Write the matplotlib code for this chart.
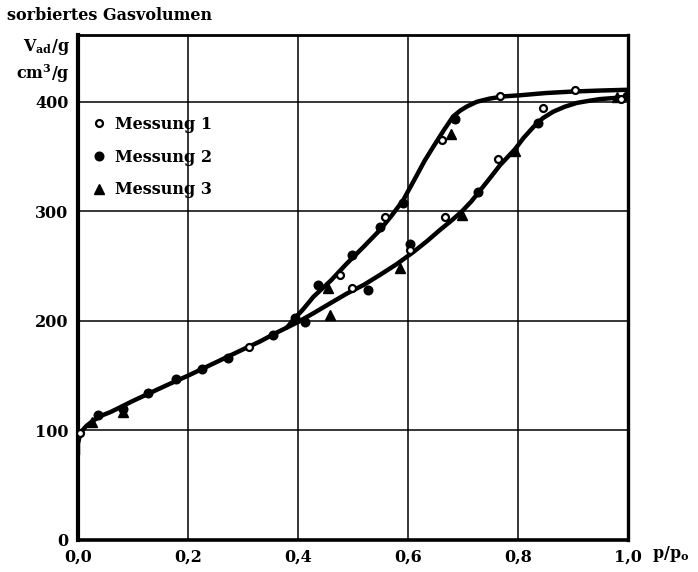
import matplotlib
matplotlib.use("Agg")
import matplotlib.pyplot as plt
from matplotlib.ticker import FixedLocator

# Sorptionsisotherme mit Hysterese

# gemeinsamer unterer Ast
common_x = [0.0, 0.0, 0.003, 0.008, 0.015, 0.025, 0.04, 0.06, 0.08, 0.1, 0.13,
            0.16, 0.2, 0.25, 0.3, 0.33, 0.36, 0.38, 0.4]
common_y = [78, 88, 95, 100, 104, 108, 113, 117, 122, 127, 134,
            141, 150, 162, 174, 181, 189, 194, 199]

# Adsorptionsast (unten)
ads_x = [0.4, 0.428, 0.46, 0.489, 0.52, 0.549, 0.58, 0.61, 0.635, 0.658, 0.68,
         0.698, 0.715, 0.731, 0.75, 0.767, 0.795, 0.81, 0.828, 0.845, 0.864,
         0.885, 0.907, 0.93, 0.949, 0.975, 1.0]
ads_y = [199, 207, 216.5, 225, 233, 242, 252, 263, 273, 283, 292,
         300, 309, 319, 331, 342, 357, 367, 377, 385, 391,
         395.5, 399, 401, 402.5, 403.5, 404]

# Desorptionsast (oben)
des_x = [0.38, 0.39, 0.41, 0.428, 0.46, 0.488, 0.52, 0.549, 0.57, 0.591, 0.615,
         0.63, 0.646, 0.665, 0.682, 0.695, 0.707, 0.725, 0.749, 0.775, 0.804,
         0.85, 0.9, 0.95, 1.0]
des_y = [194, 200, 211, 222, 237, 252, 268, 283, 296, 310, 332,
         346, 359, 374, 386.6, 392, 395.7, 400, 403, 405, 406,
         408, 409.4, 410.3, 411]

# Messpunkte
m1_x = [0.004, 0.31, 0.476, 0.498, 0.558, 0.604, 0.661, 0.667, 0.764, 0.767,
        0.846, 0.904, 0.988]
m1_y = [98, 176, 242, 230, 295, 265, 365, 295, 348, 405, 394, 411, 403]

m2_x = [0.037, 0.082, 0.128, 0.179, 0.225, 0.273, 0.355, 0.395, 0.413, 0.437,
        0.498, 0.528, 0.549, 0.59, 0.604, 0.685, 0.728, 0.837, 0.998]
m2_y = [114, 120, 134, 147, 156, 166, 187, 203, 199, 233,
        260, 228, 286, 308, 270, 384, 318, 381, 405]

m3_x = [0.025, 0.082, 0.455, 0.458, 0.585, 0.679, 0.698, 0.795, 0.98]
m3_y = [108, 117, 230, 205, 248, 371, 297, 355, 404]

x_ticks = [0.0, 0.2, 0.4, 0.6, 0.8, 1.0]
x_labels = ["0,0", "0,2", "0,4", "0,6", "0,8", "1,0"]
y_ticks = [0, 100, 200, 300, 400]

plt.rcParams["font.family"] = "DejaVu Serif"
plt.rcParams["font.weight"] = "bold"
plt.rcParams["mathtext.fontset"] = "custom"
plt.rcParams["mathtext.rm"] = "DejaVu Serif:bold"
plt.rcParams["mathtext.it"] = "DejaVu Serif:bold"
plt.rcParams["mathtext.bf"] = "DejaVu Serif:bold"
plt.rcParams["mathtext.default"] = "rm"

fig = plt.figure(figsize=(6.98, 5.72), dpi=100)
ax = fig.add_axes([78 / 698, 1 - 540 / 572, 550 / 698, 505 / 572])

ax.set_xlim(0, 1.0)
ax.set_ylim(0, 461)

# Gitter
ax.xaxis.set_major_locator(FixedLocator(x_ticks))
ax.yaxis.set_major_locator(FixedLocator(y_ticks))
ax.grid(True, color="black", linewidth=1.1)
ax.set_axisbelow(True)

for side, lw in [("left", 3.0), ("bottom", 2.6), ("top", 2.0), ("right", 2.4)]:
    ax.spines[side].set_linewidth(lw)
    ax.spines[side].set_color("black")

ax.set_xticks(x_ticks)
ax.set_xticklabels(x_labels)
ax.tick_params(axis="both", length=0, labelsize=11.5)
ax.tick_params(axis="x", pad=6)
ax.tick_params(axis="y", pad=7)

# Kurven
lw_curve = 3.2
ax.plot(common_x, common_y, color="black", lw=lw_curve, solid_capstyle="round", zorder=3)
ax.plot(ads_x, ads_y, color="black", lw=lw_curve, solid_capstyle="round", zorder=3)
ax.plot(des_x, des_y, color="black", lw=lw_curve, solid_capstyle="round", zorder=3)

# Messpunkte
ax.plot(m1_x, m1_y, linestyle="none", marker="o", markersize=5, markerfacecolor="white",
        markeredgecolor="black", markeredgewidth=1.6, label="Messung 1", zorder=5)
ax.plot(m2_x, m2_y, linestyle="none", marker="o", markersize=6.2, color="black",
        label="Messung 2", zorder=4)
ax.plot(m3_x, m3_y, linestyle="none", marker="^", markersize=6.8, color="black",
        label="Messung 3", zorder=4)

ax.legend(loc="upper left", bbox_to_anchor=(0.0, 0.869), frameon=False, fontsize=11.5,
          handlelength=0.8, handletextpad=0.6, labelspacing=1.0, borderaxespad=0.5)

# Achsenbeschriftungen
fig.text(7 / 698, 1 - 16 / 572, "sorbiertes Gasvolumen", fontsize=11.5,
         ha="left", va="center")
fig.text(70 / 698, 1 - 47 / 572, r"V$_{ad}$/g", fontsize=11.5, ha="right", va="center")
fig.text(70 / 698, 1 - 74 / 572, r"cm$^{3}$/g", fontsize=11.5, ha="right", va="center")
fig.text(652 / 698, 1 - 554 / 572, r"p/p$_{o}$", fontsize=11.5, ha="left", va="center")

plt.savefig("out.png", dpi=100)
